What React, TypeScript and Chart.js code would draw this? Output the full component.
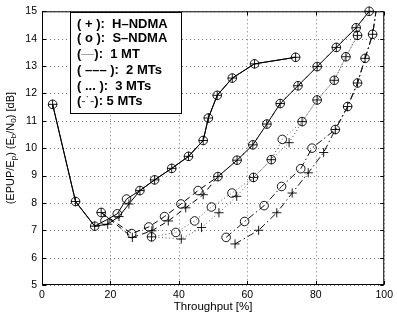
import React, { useEffect, useRef } from "react";
import { Chart, registerables } from "chart.js";

Chart.register(...registerables);

// Throughput [%] and (EPUP/Ep)(Eb/N0) [dB] for each configuration.
// S-NDMA points are drawn as circles, H-NDMA points as crosses.
const mt1SX = [3.1, 9.8, 15.4, 18.4, 22.0, 24.7, 28.6, 32.9, 37.9, 42.8, 47.1, 48.6, 51.2, 55.6, 62.1, 74.1];
const mt1SY = [11.6, 8.05, 7.15, 7.35, 7.6, 8.14, 8.45, 8.84, 9.26, 9.7, 10.28, 11.1, 11.93, 12.56, 13.08, 13.32];
const mt1HX = [3.1, 9.8, 15.4, 19.2, 22.5, 25.4, 28.6, 32.9, 37.9, 42.8, 47.1, 48.6, 51.2, 55.6, 62.1, 74.1];
const mt1HY = [11.6, 8.05, 7.15, 7.22, 7.5, 7.96, 8.45, 8.84, 9.26, 9.7, 10.28, 11.1, 11.93, 12.56, 13.08, 13.32];

const mt2SX = [17.3, 26.2, 31.2, 35.8, 40.6, 45.6, 51.4, 57.0, 61.6, 65.7, 69.6, 74.8, 80.4, 86.0, 91.8, 95.6];
const mt2SY = [7.65, 6.88, 7.12, 7.5, 7.96, 8.45, 8.96, 9.56, 10.12, 10.88, 11.63, 12.28, 12.98, 13.68, 14.4, 15.0];
const mt2HX = [17.3, 26.4, 32.1, 36.9, 42.0, 47.1, 51.4, 57.0, 61.6, 65.7, 69.6, 74.8, 80.4, 86.0, 91.8, 95.6];
const mt2HY = [7.65, 6.74, 6.98, 7.34, 7.82, 8.3, 8.96, 9.56, 10.12, 10.88, 11.63, 12.28, 12.98, 13.68, 14.4, 15.0];

const mt3SX = [32.0, 39.1, 44.6, 49.5, 55.5, 61.8, 67.0, 70.2, 76.0, 80.4, 85.4, 88.8, 92.2];
const mt3SY = [6.76, 6.92, 7.34, 7.85, 8.36, 8.93, 9.58, 10.32, 10.97, 11.76, 12.48, 13.34, 14.12];
const mt3HX = [32.0, 40.7, 46.6, 51.7, 56.9, 61.8, 67.0, 72.2, 76.0, 80.4, 85.4, 88.8, 92.2];
const mt3HY = [6.76, 6.68, 7.1, 7.64, 8.24, 8.93, 9.58, 10.2, 10.97, 11.76, 12.48, 13.34, 14.12];

const mt5SX = [53.8, 59.2, 64.9, 70.0, 75.6, 78.9, 85.7, 89.3, 92.2, 94.4, 96.6, 98.3];
const mt5SY = [6.74, 7.32, 7.9, 8.6, 9.25, 10.0, 10.68, 11.52, 12.38, 13.28, 14.16, 15.6];
const mt5HX = [56.4, 63.3, 68.6, 73.1, 77.8, 82.3, 85.7, 89.3, 92.2, 94.4, 96.6, 98.3];
const mt5HY = [6.5, 7.0, 7.64, 8.36, 9.1, 9.84, 10.68, 11.52, 12.38, 13.28, 14.16, 15.6];

const xTickValues = [0, 20, 40, 60, 80, 100];
const yTickValues = [5, 6, 7, 8, 9, 10, 11, 12, 13, 14, 15];

const xTitle = "Throughput [%]";
// y title as runs; "sub" runs are drawn as subscripts
const yTitleRuns = [
  { t: "(EPUP/E" },
  { t: "p", sub: true },
  { t: ") (E" },
  { t: "b", sub: true },
  { t: "/N" },
  { t: "0", sub: true },
  { t: ") [dB]" },
];

type Run = { t: string; color?: string; weight?: string };
const legendRows: Run[][] = [
  [{ t: "( + ):  H\u2013NDMA" }],
  [{ t: "( o ):  S\u2013NDMA" }],
  [{ t: "(" }, { t: "\u2014", color: "#9a9a9a", weight: "normal" }, { t: "):  1 MT" }],
  [{ t: "( \u2013\u2013\u2013 ):  2 MTs" }],
  [{ t: "( ... ):  3 MTs" }],
  [{ t: "(" }, { t: "-\u02D9-", color: "#444", weight: "normal" }, { t: "): 5 MTs" }],
];

const FAMILY = '"Liberation Sans", Arial, Helvetica, sans-serif';

const toPoints = (xs: number[], ys: number[]) => xs.map((x, i) => ({ x, y: ys[i] }));

type Style = { dash: number[]; color: string };
const solidStyle: Style = { dash: [], color: "#000" };
const dashedStyle: Style = { dash: [6, 4], color: "#000" };
const dottedStyle: Style = { dash: [1, 2.5], color: "#555" };
const dashDotStyle: Style = { dash: [7, 3, 1.5, 3], color: "#111" };

function series(label: string, xs: number[], ys: number[], style: Style, marker: "circle" | "cross", clip: number) {
  return {
    label,
    data: toPoints(xs, ys),
    showLine: true,
    borderColor: style.color,
    borderWidth: 1,
    borderDash: style.dash,
    pointStyle: marker,
    pointRadius: marker === "circle" ? 4.3 : 4.6,
    pointBorderWidth: 0.9,
    pointBorderColor: "#000",
    pointBackgroundColor: "rgba(0,0,0,0)",
    pointHoverRadius: 0,
    tension: 0,
    clip,
  };
}

const decorPlugin = {
  id: "figureDecor",
  beforeDraw(chart: any) {
    const { ctx, width, height } = chart;
    ctx.save();
    ctx.fillStyle = "#fff";
    ctx.fillRect(0, 0, width, height);
    ctx.restore();
  },
  beforeDatasetsDraw(chart: any) {
    const { ctx, chartArea: a, scales } = chart;
    ctx.save();
    ctx.strokeStyle = "#7a7a7a";
    ctx.lineWidth = 1;
    ctx.setLineDash([1, 3]);
    for (const v of xTickValues) {
      const px = Math.round(scales.x.getPixelForValue(v)) + 0.5;
      ctx.beginPath();
      ctx.moveTo(px, a.top);
      ctx.lineTo(px, a.bottom);
      ctx.stroke();
    }
    for (const v of yTickValues) {
      const py = Math.round(scales.y.getPixelForValue(v)) + 0.5;
      ctx.beginPath();
      ctx.moveTo(a.left, py);
      ctx.lineTo(a.right, py);
      ctx.stroke();
    }
    ctx.restore();
  },
  afterDatasetsDraw(chart: any) {
    const { ctx, chartArea: a, scales } = chart;
    ctx.save();
    ctx.setLineDash([]);
    ctx.strokeStyle = "#000";
    ctx.lineWidth = 1;
    const L = a.left + 0.5, R = a.right - 0.5, T = a.top + 0.5, B = a.bottom - 0.5;
    ctx.strokeRect(L, T, R - L, B - T);
    const tk = 3.5;
    ctx.beginPath();
    for (const v of xTickValues) {
      const px = Math.round(scales.x.getPixelForValue(v)) + 0.5;
      ctx.moveTo(px, B); ctx.lineTo(px, B - tk);
      ctx.moveTo(px, T); ctx.lineTo(px, T + tk);
    }
    for (const v of yTickValues) {
      const py = Math.round(scales.y.getPixelForValue(v)) + 0.5;
      ctx.moveTo(L, py); ctx.lineTo(L + tk, py);
      ctx.moveTo(R, py); ctx.lineTo(R - tk, py);
    }
    ctx.stroke();

    // legend box
    const bx = 70.5, by = 12.5, bw = 111, bh = 101;
    ctx.fillStyle = "#fff";
    ctx.fillRect(bx, by, bw, bh);
    ctx.strokeRect(bx, by, bw, bh);
    const rowY = [24.5, 38.5, 54.5, 70.5, 86, 101.5];
    ctx.textBaseline = "middle";
    ctx.textAlign = "left";
    legendRows.forEach((row, i) => {
      let x = 77;
      for (const r of row) {
        ctx.font = `${r.weight || "bold"} 13px ${FAMILY}`;
        ctx.fillStyle = r.color || "#000";
        ctx.fillText(r.t, x, rowY[i]);
        x += ctx.measureText(r.t).width;
      }
    });
    ctx.restore();
  },
  afterDraw(chart: any) {
    const { ctx, chartArea: a } = chart;
    ctx.save();
    ctx.fillStyle = "#000";
    ctx.textBaseline = "middle";
    ctx.textAlign = "center";
    ctx.font = `11.5px ${FAMILY}`;
    ctx.fillText(xTitle, (a.left + a.right) / 2, 307);

    // rotated y title with subscripts
    const mainFont = `11px ${FAMILY}`;
    const subFont = `8px ${FAMILY}`;
    let total = 0;
    for (const r of yTitleRuns) {
      ctx.font = r.sub ? subFont : mainFont;
      total += ctx.measureText(r.t).width;
    }
    ctx.translate(10.5, (a.top + a.bottom) / 2);
    ctx.rotate(-Math.PI / 2);
    ctx.textAlign = "left";
    let x = -total / 2;
    for (const r of yTitleRuns) {
      ctx.font = r.sub ? subFont : mainFont;
      ctx.fillText(r.t, x, r.sub ? 3 : 0);
      x += ctx.measureText(r.t).width;
    }
    ctx.restore();
  },
};

export default function App() {
  const canvasRef = useRef<HTMLCanvasElement | null>(null);

  useEffect(() => {
    document.body.style.margin = "0";
    const canvas = canvasRef.current;
    if (!canvas) return;
    const chart = new Chart(canvas, {
      type: "scatter",
      data: {
        datasets: [
          series("1 MT S-NDMA", mt1SX, mt1SY, solidStyle, "circle", 8),
          series("1 MT H-NDMA", mt1HX, mt1HY, solidStyle, "cross", 8),
          series("2 MTs S-NDMA", mt2SX, mt2SY, dashedStyle, "circle", 8),
          series("2 MTs H-NDMA", mt2HX, mt2HY, dashedStyle, "cross", 8),
          series("3 MTs S-NDMA", mt3SX, mt3SY, dottedStyle, "circle", 8),
          series("3 MTs H-NDMA", mt3HX, mt3HY, dottedStyle, "cross", 8),
          series("5 MTs S-NDMA", mt5SX, mt5SY, dashDotStyle, "circle", 0),
          series("5 MTs H-NDMA", mt5HX, mt5HY, dashDotStyle, "cross", 0),
        ] as any,
      },
      options: {
        responsive: false,
        animation: false,
        events: [],
        layout: { padding: { left: 0, top: 7, right: 9, bottom: 0 } },
        plugins: {
          legend: { display: false },
          tooltip: { enabled: false },
          title: { display: false },
        },
        scales: {
          x: {
            type: "linear",
            min: 0,
            max: 100,
            afterFit: (s: any) => { s.height = 29; },
            afterBuildTicks: (s: any) => { s.ticks = xTickValues.map((v) => ({ value: v })); },
            grid: { display: false, drawTicks: false },
            border: { display: false },
            ticks: {
              autoSkip: false,
              maxRotation: 0,
              padding: 4,
              color: "#000",
              font: { family: FAMILY, size: 10.5 },
            },
          },
          y: {
            type: "linear",
            min: 5,
            max: 15,
            afterFit: (s: any) => { s.width = 42; },
            afterBuildTicks: (s: any) => { s.ticks = yTickValues.map((v) => ({ value: v })); },
            grid: { display: false, drawTicks: false },
            border: { display: false },
            ticks: {
              autoSkip: false,
              padding: 5,
              color: "#000",
              font: { family: FAMILY, size: 10.5 },
            },
          },
        },
      } as any,
      plugins: [decorPlugin],
    });
    return () => chart.destroy();
  }, []);

  return (
    <div style={{ width: 397, height: 314 }}>
      <canvas ref={canvasRef} width={397} height={314} style={{ display: "block" }} />
    </div>
  );
}
